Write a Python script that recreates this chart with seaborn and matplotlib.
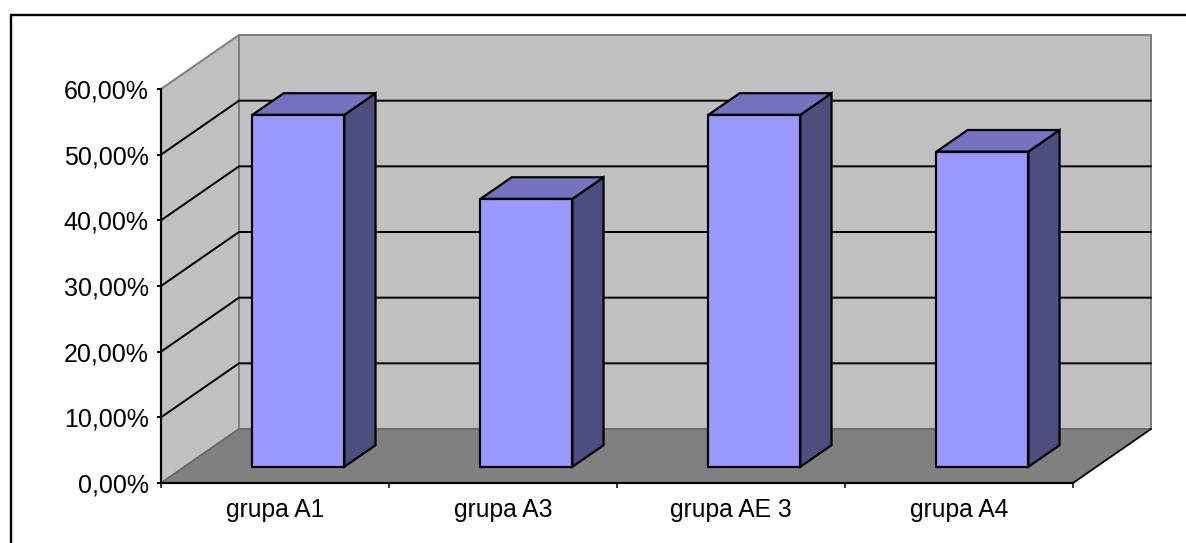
"""
Recreate a 3D-looking Excel column chart with seaborn and matplotlib.
"""

import matplotlib.pyplot as plt
import pandas as pd
import seaborn as sns
from matplotlib.lines import Line2D

# Chart data
groups = ["grupa A1", "grupa A3", "grupa AE 3", "grupa A4"]
percent_values = [53.6, 40.8, 53.6, 48.0]
y_ticks = [0, 10, 20, 30, 40, 50, 60]
y_tick_labels = ["0,00%", "10,00%", "20,00%", "30,00%", "40,00%", "50,00%", "60,00%"]

# Figure size and axes frame in pixels
FIG_W, FIG_H = 1186, 543
AX_LEFT, AX_RIGHT, AX_TOP, AX_BOTTOM = 161, 1073, 89, 483

# Fake depth: how far the back wall is moved, in data units
DEPTH_X = 78 / 228
DEPTH_Y = 54 / ((AX_BOTTOM - AX_TOP) / 60)
BAR_WIDTH = 0.403
BAR_FRONT = 0.30
BAR_BACK = 0.70

FRONT_COLOR = "#9999FF"
TOP_COLOR = "#7373BF"
SIDE_COLOR = "#4D4D80"
WALL_COLOR = "#C0C0C0"
FLOOR_COLOR = "#808080"
WALL_EDGE = "#808080"
PX = 0.72  # one pixel in points at dpi 100


def project(x, y, depth):
    """Move a data point back along the fake depth direction."""
    return x + DEPTH_X * depth, y + DEPTH_Y * depth


def draw_face(ax, corners, color, zorder, edge="black", lw=2.2 * PX):
    xs = [point[0] for point in corners]
    ys = [point[1] for point in corners]
    ax.fill(xs, ys, facecolor=color, edgecolor=edge, linewidth=lw,
            clip_on=False, zorder=zorder, joinstyle="miter")


def draw_walls(ax):
    x0, x1 = -0.5, len(groups) - 0.5
    y1 = y_ticks[-1]

    # left wall, back wall and floor
    draw_face(ax, [project(x0, 0, 0), project(x0, 0, 1), project(x0, y1, 1), project(x0, y1, 0)],
              WALL_COLOR, 1, edge=WALL_EDGE, lw=2 * PX)
    draw_face(ax, [project(x0, 0, 1), project(x1, 0, 1), project(x1, y1, 1), project(x0, y1, 1)],
              WALL_COLOR, 1, edge=WALL_EDGE, lw=2 * PX)
    draw_face(ax, [project(x0, 0, 0), project(x1, 0, 0), project(x1, 0, 1), project(x0, 0, 1)],
              FLOOR_COLOR, 1.5, edge="none", lw=0)

    # floor edges
    ax.plot(*zip(project(x0, 0, 0), project(x0, 0, 1), project(x1, 0, 1)),
            color="#666666", lw=1.5 * PX, clip_on=False, zorder=1.6)
    ax.plot(*zip(project(x1, 0, 0), project(x1, 0, 1)),
            color="black", lw=1.8 * PX, clip_on=False, zorder=1.6)

    # gridlines run along both walls
    for level in y_ticks[1:-1]:
        points = [project(x0, level, 0), project(x0, level, 1), project(x1, level, 1)]
        ax.plot(*zip(*points), color="black", lw=2 * PX, clip_on=False, zorder=2)


def draw_bars(ax):
    plot_data = pd.DataFrame({"group": groups, "value": percent_values})
    sns.barplot(data=plot_data, x="group", y="value", width=BAR_WIDTH, ax=ax,
                color=FRONT_COLOR, saturation=1, edgecolor="black",
                linewidth=2.2 * PX, zorder=5)

    for bar in ax.patches:
        # slide the front face into the floor depth
        left, value = bar.get_x(), bar.get_height()
        right = left + bar.get_width()
        new_left, new_bottom = project(left, 0, BAR_FRONT)
        bar.set_x(new_left)
        bar.set_y(new_bottom)
        bar.set_clip_on(False)
        bar.set_joinstyle("miter")

        side = [project(right, 0, BAR_FRONT), project(right, 0, BAR_BACK),
                project(right, value, BAR_BACK), project(right, value, BAR_FRONT)]
        top = [project(left, value, BAR_FRONT), project(right, value, BAR_FRONT),
               project(right, value, BAR_BACK), project(left, value, BAR_BACK)]
        draw_face(ax, side, SIDE_COLOR, 4)
        draw_face(ax, top, TOP_COLOR, 4)


def style_axes(ax):
    ax.set_xlim(-0.5, len(groups) - 0.5)
    ax.set_ylim(y_ticks[0], y_ticks[-1])
    ax.set_xlabel("")
    ax.set_ylabel("")
    ax.patch.set_visible(False)

    ax.set_yticks(y_ticks, y_tick_labels)
    ax.set_xticks(range(len(groups)), groups)
    ax.set_xticks([i - 0.5 for i in range(len(groups) + 1)], minor=True)
    ax.tick_params(axis="y", left=True, length=4 * PX, width=2 * PX, pad=6,
                   labelsize=18, color="black", labelcolor="black")
    ax.tick_params(axis="x", which="major", bottom=False, pad=7, labelsize=17.7,
                   labelcolor="black")
    ax.tick_params(axis="x", which="minor", bottom=True, length=5 * PX, width=1.5 * PX,
                   color="black")

    sns.despine(ax=ax, top=True, right=True)
    for name in ["left", "bottom"]:
        ax.spines[name].set_linewidth(2.2 * PX)
        ax.spines[name].set_color("black")
        ax.spines[name].set_zorder(3)


def draw_outer_frame(fig):
    # only the top and left border are inside the picture
    x = 10.5 / FIG_W
    y = 1 - 14.5 / FIG_H
    fig.add_artist(Line2D([x, x, 1], [0, y, y], color="black", lw=2.4 * PX,
                          solid_joinstyle="miter"))


def main():
    sns.set_style("white")
    plt.rcParams["font.family"] = ["Liberation Sans", "DejaVu Sans"]

    fig = plt.figure(figsize=(FIG_W / 100, FIG_H / 100), dpi=100)
    ax = fig.add_axes([
        AX_LEFT / FIG_W,
        1 - AX_BOTTOM / FIG_H,
        (AX_RIGHT - AX_LEFT) / FIG_W,
        (AX_BOTTOM - AX_TOP) / FIG_H,
    ])

    draw_bars(ax)
    draw_walls(ax)
    style_axes(ax)
    draw_outer_frame(fig)

    fig.savefig("out.png", dpi=100)


if __name__ == "__main__":
    main()
